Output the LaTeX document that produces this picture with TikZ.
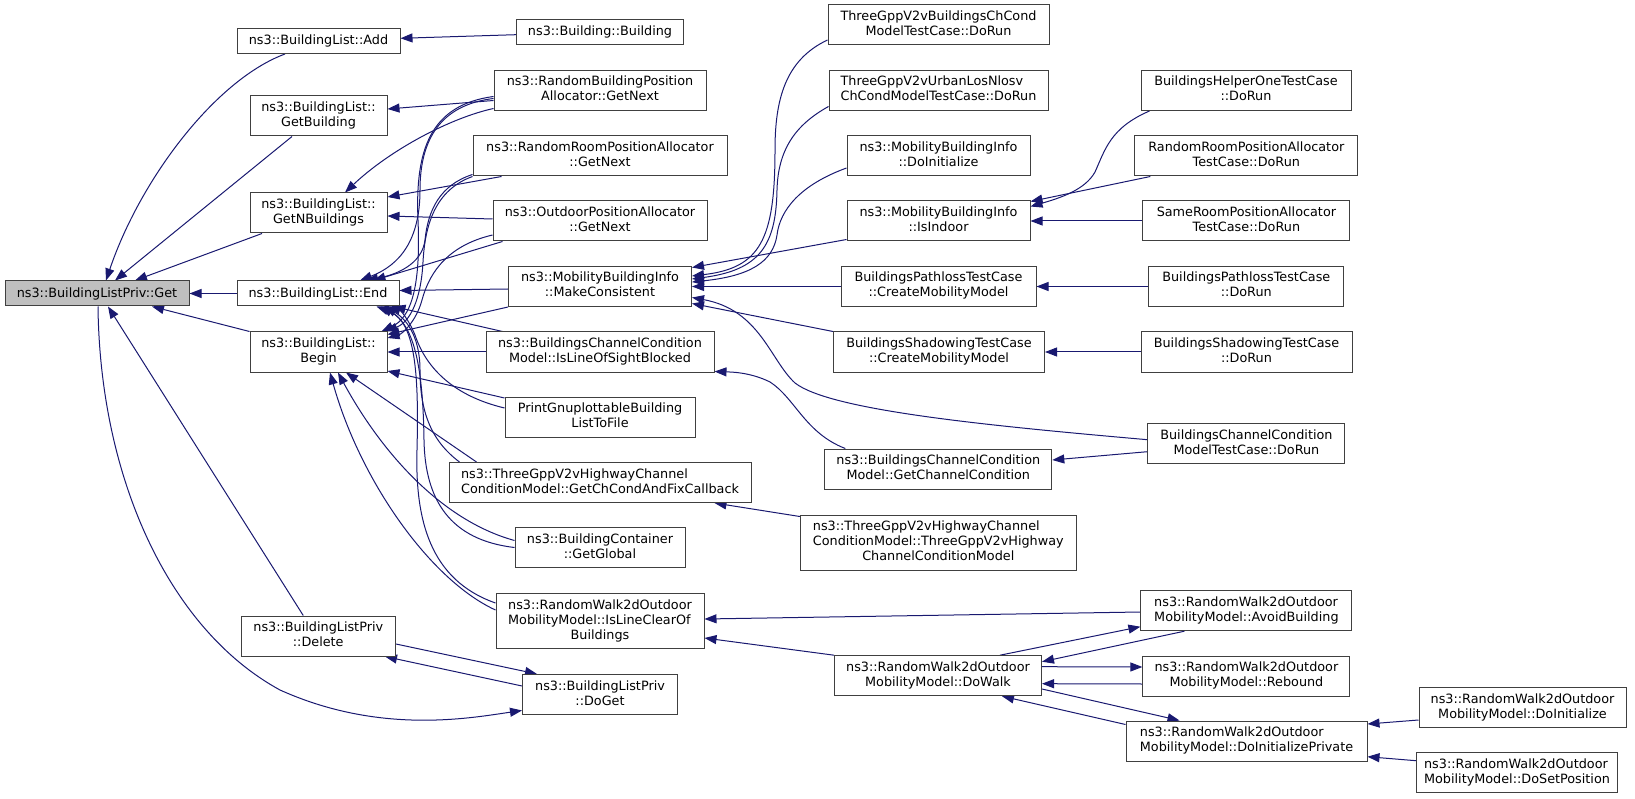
\documentclass[tikz,border=0pt]{standalone}
\usepackage{fontspec}
\setmainfont{DejaVu Sans}
\usetikzlibrary{arrows.meta,calc}
\pgfdeclarelayer{bg}
\pgfsetlayers{bg,main}
\definecolor{edgec}{HTML}{191970}
\definecolor{nodeb}{HTML}{404040}
\definecolor{nodef}{HTML}{BFBFBF}
\newcommand\twol[2]{\begin{tabular}{@{}l@{}}#1\\\multicolumn{1}{@{}c@{}}{#2}\end{tabular}}
\newcommand\threel[3]{\begin{tabular}{@{}l@{}}#1\\#2\\\multicolumn{1}{@{}c@{}}{#3}\end{tabular}}
\tikzset{
  box/.style={draw=nodeb, line width=1pt, fill=white, inner xsep=2pt, inner ysep=0pt,
    font=\fontsize{12.8}{15}\selectfont, minimum height=40pt},
  box1/.style={box, minimum height=25pt},
  box3/.style={box, minimum height=55pt},
  cline/.style={draw=edgec, line width=1pt, -{Triangle[length=12pt,width=9pt]}}
}
\begin{document}
\begin{tikzpicture}[x=1pt,y=-1pt]
\useasboundingbox (0,0) rectangle (1635,799);
% rank 0
\node[box1, fill=nodef, minimum width=184pt] (get) at (97,293.5) {ns3::BuildingListPriv::Get};
% rank 1
\node[box1, minimum width=163pt] (add) at (318.5,41) {ns3::BuildingList::Add};
\node[box, minimum width=137pt] (getb) at (318.5,116) {\twol{ns3::BuildingList::}{GetBuilding}};
\node[box, minimum width=137pt] (getn) at (318.5,213) {\twol{ns3::BuildingList::}{GetNBuildings}};
\node[box1, minimum width=162pt] (end) at (318,293.5) {ns3::BuildingList::End};
\node[box, minimum width=137pt] (begin) at (318.5,352) {\twol{ns3::BuildingList::}{Begin}};
\node[box, minimum width=154.5pt] (delete) at (318.25,636) {\twol{ns3::BuildingListPriv}{::Delete}};
% rank 2
\node[box1, minimum width=167pt] (bldg) at (600,32) {ns3::Building::Building};
\node[box, minimum width=212pt] (rbpa) at (600,90.5) {\twol{ns3::RandomBuildingPosition}{Allocator::GetNext}};
\node[box, minimum width=254pt] (rrpa) at (600,156) {\twol{ns3::RandomRoomPositionAllocator}{::GetNext}};
\node[box, minimum width=214pt] (opa) at (600,221) {\twol{ns3::OutdoorPositionAllocator}{::GetNext}};
\node[box, minimum width=183pt] (mc) at (600,286.5) {\twol{ns3::MobilityBuildingInfo}{::MakeConsistent}};
\node[box, minimum width=228pt] (islos) at (600,352) {\twol{ns3::BuildingsChannelCondition}{Model::IsLineOfSightBlocked}};
\node[box, minimum width=190pt] (pgnu) at (600,417) {\twol{PrintGnuplottableBuilding}{ListToFile}};
\node[box, minimum width=302pt] (gcc) at (600,482.5) {\twol{ns3::ThreeGppV2vHighwayChannel}{ConditionModel::GetChCondAndFixCallback}};
\node[box, minimum width=170pt] (ggl) at (600,547.5) {\twol{ns3::BuildingContainer}{::GetGlobal}};
\node[box3, minimum width=208pt] (ilc) at (600,621) {\threel{ns3::RandomWalk2dOutdoor}{MobilityModel::IsLineClearOf}{Buildings}};
\node[box, minimum width=155pt] (doget) at (600,694.5) {\twol{ns3::BuildingListPriv}{::DoGet}};
% rank 3
\node[box, minimum width=221pt] (tgb) at (938.5,25) {\twol{ThreeGppV2vBuildingsChCond}{ModelTestCase::DoRun}};
\node[box, minimum width=219pt] (tgu) at (938.5,90.5) {\twol{ThreeGppV2vUrbanLosNlosv}{ChCondModelTestCase::DoRun}};
\node[box, minimum width=183pt] (mbidi) at (938.5,156) {\twol{ns3::MobilityBuildingInfo}{::DoInitialize}};
\node[box, minimum width=183pt] (indoor) at (938.5,221) {\twol{ns3::MobilityBuildingInfo}{::IsIndoor}};
\node[box, minimum width=195pt] (plc) at (938.5,286.5) {\twol{BuildingsPathlossTestCase}{::CreateMobilityModel}};
\node[box, minimum width=211pt] (shc) at (939,352) {\twol{BuildingsShadowingTestCase}{::CreateMobilityModel}};
\node[box, minimum width=227pt] (gchc) at (938.3,469) {\twol{ns3::BuildingsChannelCondition}{Model::GetChannelCondition}};
\node[box3, minimum width=276pt] (hwc) at (938.3,542.5) {\threel{ns3::ThreeGppV2vHighwayChannel}{ConditionModel::ThreeGppV2vHighway}{ChannelConditionModel}};
\node[box, minimum width=207pt] (dowalk) at (938,675.7) {\twol{ns3::RandomWalk2dOutdoor}{MobilityModel::DoWalk}};
% rank 4
\node[box, minimum width=210pt] (helper) at (1246,90.5) {\twol{BuildingsHelperOneTestCase}{::DoRun}};
\node[box, minimum width=223pt] (rrpat) at (1246.3,156) {\twol{RandomRoomPositionAllocator}{TestCase::DoRun}};
\node[box, minimum width=207pt] (samer) at (1246.4,221) {\twol{SameRoomPositionAllocator}{TestCase::DoRun}};
\node[box, minimum width=195pt] (pldr) at (1246.3,286.5) {\twol{BuildingsPathlossTestCase}{::DoRun}};
\node[box, minimum width=211pt] (shdr) at (1246.5,352) {\twol{BuildingsShadowingTestCase}{::DoRun}};
\node[box, minimum width=197pt] (bcct) at (1246.4,443.7) {\twol{BuildingsChannelCondition}{ModelTestCase::DoRun}};
\node[box, minimum width=211pt] (avoid) at (1246.4,610.7) {\twol{ns3::RandomWalk2dOutdoor}{MobilityModel::AvoidBuilding}};
\node[box, minimum width=207pt] (rebound) at (1246.4,676) {\twol{ns3::RandomWalk2dOutdoor}{MobilityModel::Rebound}};
\node[box, minimum width=241pt] (dip) at (1246.5,741) {\twol{ns3::RandomWalk2dOutdoor}{MobilityModel::DoInitializePrivate}};
% rank 5
\node[box, minimum width=207pt] (rwdi) at (1522.5,707.7) {\twol{ns3::RandomWalk2dOutdoor}{MobilityModel::DoInitialize}};
\node[box, minimum width=201pt] (rwsp) at (1517,772.7) {\twol{ns3::RandomWalk2dOutdoor}{MobilityModel::DoSetPosition}};

\begin{pgfonlayer}{bg}
% callers of Get
\draw[cline] ($(add.south)+(-33.5,0)$) .. controls (215,80) and (140,180) .. ($(get.north)+(9,0)$);
\draw[cline] ($(getb.south)+(-26.5,0)$) -- ($(get.north)+(18,0)$);
\draw[cline] ($(getn.south)+(-56.5,0)$) -- ($(get.north)+(38,0)$);
\draw[cline] (end.west) -- (get.east);
\draw[cline] (begin.north west) -- ($(get.south)+(55,0)$);
\draw[cline] ($(delete.north)+(-15,0)$) -- ($(get.south)+(11,0)$);
\draw[cline] ($(get.south)+(1,0)$) .. controls (100,480) and (170,630) .. (280,690) .. controls (380,735) and (470,718) .. ($(doget.west)+(0,16)$);
\draw[cline] ($(delete.east)+(0,8)$) -- ($(doget.north west)+(15,0)$);
\draw[cline] ($(doget.west)+(0,-8.5)$) -- ($(delete.south east)+(-11,0)$);
% rank 2 -> rank 1
\draw[cline] ($(bldg.west)+(0,2.7)$) -- ($(add.east)+(0,-2.7)$);
\draw[cline] ($(rbpa.west)+(0,10)$) -- ($(getb.east)+(0,-7)$);
\draw[cline] ($(rbpa.west)+(0,18)$) .. controls (450,118) and (390,150) .. ($(getn.north)+(26.5,0)$);
\draw[cline] ($(rrpa.south west)+(29,0)$) -- ($(getn.east)+(0,-16)$);
\draw[cline] ($(opa.west)+(0,-2)$) -- ($(getn.east)+(0,3)$);
\draw[cline] ($(rbpa.west)+(0,8)$) .. controls (440,105) and (420,140) .. (420,190) .. controls (420,240) and (400,265) .. ($(end.north)+(42,0)$);
\draw[cline] ($(rbpa.west)+(0,6)$) .. controls (430,105) and (415,150) .. (418,220) .. controls (421,290) and (410,318) .. ($(begin.north east)+(-6,0)$);
\draw[cline] ($(rrpa.south west)+(0,-2)$) .. controls (440,185) and (428,210) .. (425,240) .. controls (422,265) and (395,275) .. ($(end.north)+(48,0)$);
\draw[cline] (rrpa.south west) .. controls (435,190) and (425,225) .. (423,262) .. controls (421,300) and (410,322) .. ($(begin.north east)+(-2,0)$);
\draw[cline] ($(opa.west)+(0,14)$) .. controls (450,245) and (430,270) .. (422,300) .. controls (416,322) and (402,334) .. ($(begin.east)+(0,-14)$);
\draw[cline] ($(opa.south west)+(10,0)$) -- ($(end.north east)+(-26,0)$);
\draw[cline] ($(mc.west)+(0,2.5)$) -- ($(end.east)+(0,-3)$);
\draw[cline] (mc.south west) -- ($(begin.north east)+(0,3)$);
\draw[cline] ($(islos.north west)+(17,0)$) -- ($(end.south east)+(-6,0)$);
\draw[cline] (islos.west) -- (begin.east);
\draw[cline] ($(pgnu.west)+(0,-19)$) -- ($(begin.east)+(0,19)$);
\draw[cline] ($(pgnu.west)+(0,-9)$) .. controls (450,395) and (425,365) .. (415,335) .. controls (408,318) and (400,310) .. ($(end.south east)+(-11,0)$);
\draw[cline] ($(gcc.north west)+(28,0)$) -- ($(begin.south)+(27.5,0)$);
\draw[cline] ($(gcc.north west)+(11,0)$) .. controls (430,440) and (420,410) .. (420,370) .. controls (420,335) and (405,318) .. ($(end.south east)+(-15,0)$);
\draw[cline] ($(ggl.west)+(0,-7)$) .. controls (440,520) and (380,450) .. ($(begin.south)+(19.5,0)$);
\draw[cline] (ggl.west) .. controls (450,540) and (425,500) .. (424,440) .. controls (423,370) and (415,325) .. ($(end.south east)+(-19,0)$);
\draw[cline] ($(ilc.west)+(0,-11)$) .. controls (430,580) and (360,480) .. ($(begin.south)+(11.5,0)$);
\draw[cline] ($(ilc.west)+(0,-18)$) .. controls (430,580) and (415,520) .. (417,450) .. controls (419,370) and (415,320) .. ($(end.south east)+(-23,0)$);
% rank 3 -> rank 2
\draw[cline] ($(tgb.west)+(0,15)$) .. controls (785,60) and (775,100) .. (775,150) .. controls (775,240) and (760,268) .. ($(mc.east)+(0,-10.5)$);
\draw[cline] ($(tgu.west)+(0,16)$) .. controls (795,125) and (778,150) .. (777,190) .. controls (776,245) and (760,270) .. ($(mc.east)+(0,-7.5)$);
\draw[cline] ($(mbidi.west)+(0,12)$) .. controls (800,185) and (780,210) .. (777,235) .. controls (773,262) and (750,276) .. ($(mc.east)+(0,-4.5)$);
\draw[cline] ($(indoor.south west)+(0,-2)$) -- ($(mc.north east)+(0,1.5)$);
\draw[cline] (plc.west) -- (mc.east);
\draw[cline] (shc.north west) -- ($(mc.east)+(0,17)$);
\draw[cline] ($(bcct.west)+(0,-4)$) .. controls (980,425) and (830,410) .. (795,383) .. controls (770,360) and (760,310) .. ($(mc.east)+(0,11)$);
\draw[cline] ($(gchc.north west)+(21,0)$) .. controls (805,433) and (795,398) .. (770,382) .. controls (750,372) and (730,372) .. ($(islos.south east)+(0,-1)$);
\draw[cline] ($(hwc.north west)+(0,2)$) -- ($(gcc.south east)+(-37,0)$);
\draw[cline] ($(avoid.west)+(0,1.3)$) -- ($(ilc.east)+(0,-2)$);
\draw[cline] (dowalk.north west) -- ($(ilc.east)+(0,17)$);
% rank 4 -> rank 3
\draw[cline] ($(helper.south west)+(9,0)$) .. controls (1110,128) and (1105,150) .. (1095,172) .. controls (1085,190) and (1060,198) .. ($(indoor.north east)+(0,6)$);
\draw[cline] ($(rrpat.south west)+(16,0)$) -- ($(indoor.north east)+(0,1)$);
\draw[cline] (samer.west) -- (indoor.east);
\draw[cline] (pldr.west) -- (plc.east);
\draw[cline] (shdr.west) -- (shc.east);
\draw[cline] ($(bcct.west)+(0,8)$) -- ($(gchc.east)+(0,-9)$);
\draw[cline] ($(dowalk.north east)+(-42,0)$) -- ($(avoid.west)+(0,16)$);
\draw[cline] ($(avoid.south west)+(44,0)$) -- ($(dowalk.east)+(0,-14)$);
\draw[cline] ($(dowalk.east)+(0,-9)$) -- ($(rebound.west)+(0,-9)$);
\draw[cline] ($(rebound.west)+(0,8)$) -- ($(dowalk.east)+(0,8)$);
\draw[cline] ($(dowalk.east)+(0,13.3)$) -- ($(dip.north west)+(54,0)$);
\draw[cline] ($(dip.north west)+(0,4)$) -- ($(dowalk.south east)+(-40,0)$);
% rank 5 -> rank 4
\draw[cline] ($(rwdi.west)+(0,12.3)$) -- ($(dip.east)+(0,-17)$);
\draw[cline] ($(rwsp.west)+(0,-12)$) -- ($(dip.east)+(0,15.7)$);
\end{pgfonlayer}
\end{tikzpicture}
\end{document}
